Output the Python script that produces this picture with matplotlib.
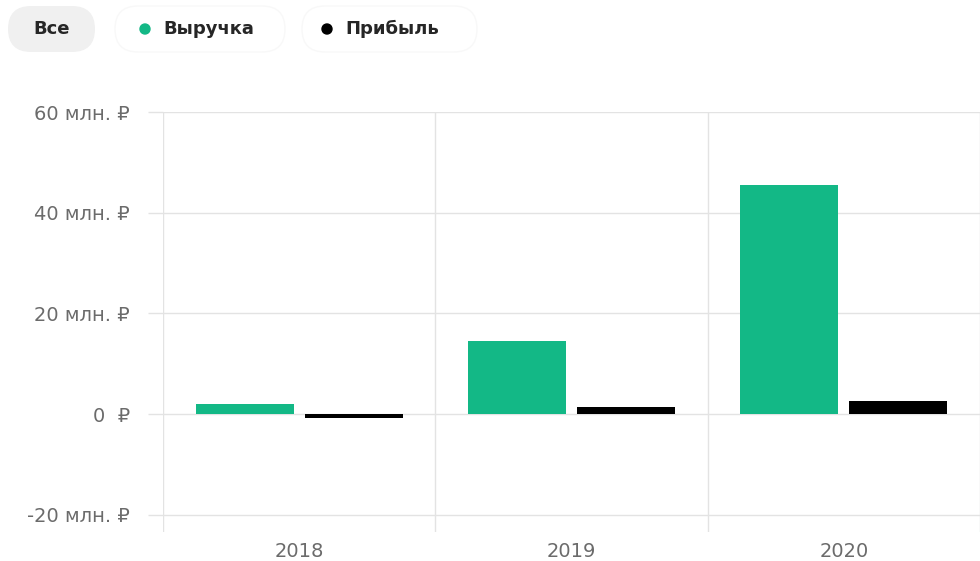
import matplotlib.pyplot as plt
from matplotlib.patches import FancyBboxPatch, Circle
from matplotlib.ticker import FuncFormatter

# --- Data (million rubles) ---
years = ['2018', '2019', '2020']
revenue = [2.0, 14.6, 45.5]
profit = [-0.8, 1.4, 2.6]
y_ticks = [-20, 0, 20, 40, 60]

GREEN = '#13b886'
BLACK = '#000000'
GRID = '#e3e3e3'
LABEL = '#6b6b6b'
TEXT = '#262626'

plt.rcParams['font.family'] = ['DejaVu Sans']

W, H = 980, 561
fig = plt.figure(figsize=(W / 100, H / 100), dpi=100, facecolor='white')

# plot area in pixel coordinates of the reference
left, right, top, bottom = 163, 980, 112, 532
ax = fig.add_axes([left / W, 1 - bottom / H, (right - left) / W, (bottom - top) / H])

x = list(range(len(years)))
bar_w = 0.36
off = 0.2
ax.bar([i - off for i in x], revenue, width=bar_w, color=GREEN, zorder=3)
ax.bar([i + off for i in x], profit, width=bar_w, color=BLACK, zorder=3)

ax.set_xlim(-0.5, -0.5 + (right - left) / 275)
ax.set_ylim(-23.4, 60)

ax.set_yticks(y_ticks)
ax.yaxis.set_major_formatter(FuncFormatter(lambda v, p: '0  ₽' if v == 0 else f'{int(v)} млн. ₽'))
ax.set_xticks(x)
ax.set_xticklabels(years)
ax.set_xticks([i - 0.5 for i in range(len(years) + 1)], minor=True)

ax.grid(True, axis='y', which='major', color=GRID, linewidth=1, zorder=0)
ax.grid(True, axis='x', which='minor', color=GRID, linewidth=1, zorder=0)
ax.tick_params(axis='y', length=10.8, width=1, color=GRID, pad=13, labelsize=14, labelcolor=LABEL)
ax.tick_params(axis='x', which='major', length=0, pad=7, labelsize=14, labelcolor=LABEL)
ax.tick_params(axis='x', which='minor', length=0)
for s in ax.spines.values():
    s.set_visible(False)

# --- Legend pills at the top ---
ov = fig.add_axes([0, 0, 1, 1], facecolor='none')
ov.set_xlim(0, W)
ov.set_ylim(H, 0)
ov.axis('off')

ov.add_patch(FancyBboxPatch((8, 6), 87, 46, boxstyle='round,pad=0,rounding_size=23',
                            facecolor='#f0f0f0', edgecolor='none'))
ov.text(52, 29, 'Все', ha='center', va='center', fontsize=13, fontweight='bold', color=TEXT)

for px, pw in [(115, 170), (302, 175)]:
    ov.add_patch(FancyBboxPatch((px, 6), pw, 46, boxstyle='round,pad=0,rounding_size=23',
                                facecolor='white', edgecolor='#f8f8f8', linewidth=1))

ov.add_patch(Circle((145, 29), 5, color=GREEN))
ov.text(163, 29, 'Выручка', ha='left', va='center', fontsize=13, fontweight='bold', color=TEXT)
ov.add_patch(Circle((327, 29), 5, color=BLACK))
ov.text(345, 29, 'Прибыль', ha='left', va='center', fontsize=13, fontweight='bold', color=TEXT)

fig.savefig('out.png', dpi=100, facecolor='white')
